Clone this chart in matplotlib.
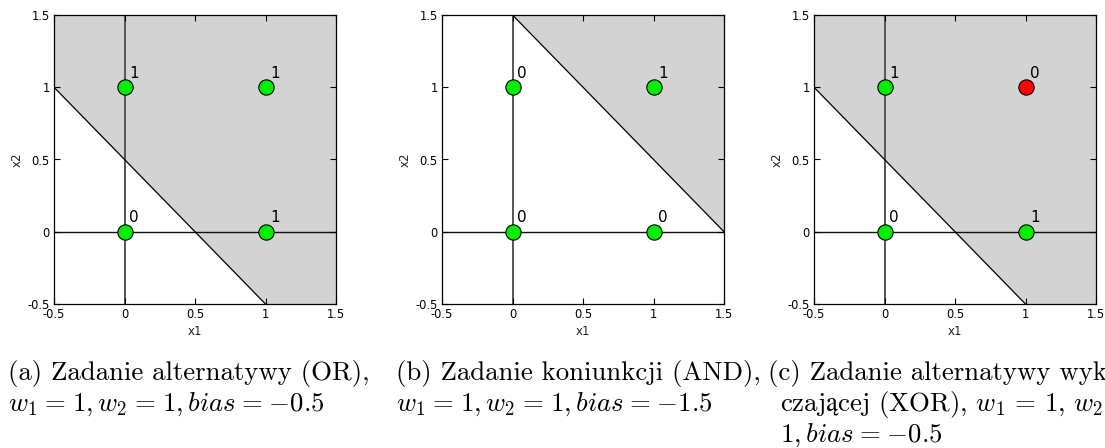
import matplotlib
matplotlib.use("Agg")
import matplotlib.pyplot as plt
import numpy as np

plt.rcParams["axes.unicode_minus"] = False
plt.rcParams["mathtext.fontset"] = "cm"

# Logic-gate inputs and perceptron setups
inputs_x1 = [0, 1, 0, 1]
inputs_x2 = [0, 0, 1, 1]

targets = {
    "OR": [0, 1, 1, 1],
    "AND": [0, 0, 0, 1],
    "XOR": [0, 1, 1, 0],
}
weights = {
    "OR": (1.0, 1.0, -0.5),
    "AND": (1.0, 1.0, -1.5),
    "XOR": (1.0, 1.0, -0.5),
}
# 1 = correctly classified, 0 = misclassified
correct = {
    "OR": [1, 1, 1, 1],
    "AND": [1, 1, 1, 1],
    "XOR": [1, 1, 1, 0],
}
gates = ["OR", "AND", "XOR"]

tick_values = [-0.5, 0, 0.5, 1, 1.5]
tick_labels = ["-0.5", "0", "0.5", "1", "1.5"]

EQ = r"\hspace{0.08}=\hspace{0.08}"
captions = {
    "OR": ["(a) Zadanie alternatywy (OR),",
           r"$w_1" + EQ + r"1,w_2" + EQ + r"1,bias" + EQ + r"{-}0.5$"],
    "AND": ["(b) Zadanie koniunkcji (AND),",
            r"$w_1" + EQ + r"1,w_2" + EQ + r"1,bias" + EQ + r"{-}1.5$"],
    "XOR": ["(c) Zadanie alternatywy wyklu-",
            r"$\mathrm{czającej}$ (XOR), $w_1\,=\,1,\,w_2\;=$",
            r"$1,bias" + EQ + r"{-}0.5$"],
}

W, H = 1105, 448
fig = plt.figure(figsize=(W / 100, H / 100), dpi=100)

panel_left = [54, 442, 814]
panel_w, panel_top, panel_bottom = 282, 15, 304

for i, g in enumerate(gates):
    ax = fig.add_axes([panel_left[i] / W, (H - panel_bottom) / H,
                       panel_w / W, (panel_bottom - panel_top) / H])
    ax.set_xlim(-0.5, 1.5)
    ax.set_ylim(-0.5, 1.5)

    w1, w2, b = weights[g]
    xs = np.linspace(-0.5, 1.5, 401)
    boundary = -(w1 * xs + b) / w2
    ax.fill_between(xs, boundary, 1.5, color="#d3d3d3", lw=0, zorder=0)
    ax.plot(xs, boundary, color="black", lw=0.9, zorder=2)

    ax.axvline(0, color="#555555", lw=1.4, zorder=1)
    ax.axhline(0, color="#111111", lw=1.0, zorder=1)

    for x, y, t, ok in zip(inputs_x1, inputs_x2, targets[g], correct[g]):
        ax.plot(x, y, "o", ms=11, mfc="#00ee00" if ok else "#ff0000",
                mec="black", mew=0.8, zorder=3)
        ax.text(x + 0.035, y + 0.045, str(t), fontsize=11, color="black",
                ha="left", va="bottom", zorder=4)

    ax.set_xticks(tick_values)
    ax.set_xticklabels(tick_labels)
    ax.set_yticks(tick_values)
    ax.set_yticklabels(tick_labels)
    ax.tick_params(direction="in", length=4, width=0.8, labelsize=8.3,
                   top=True, right=True, pad=3, colors="black")
    ax.set_xlabel("x1", fontsize=8.5, labelpad=3, color="#222222")
    ax.set_ylabel("x2", fontsize=8.5, labelpad=3, color="#222222")
    for s in ax.spines.values():
        s.set_linewidth(0.9)

    # caption lines
    cap = captions[g]
    cx = (panel_left[i] - 46) / W
    fam = ["cmr10", "DejaVu Serif"]
    ys = [373, 404, 435]
    for j, line in enumerate(cap):
        indent = 12 if (g == "XOR" and j > 0) else 0
        fig.text(cx + indent / W, 1 - ys[j] / H, line, fontsize=19.3,
                 family=fam, ha="left", va="center")

fig.savefig("out.png", dpi=100)
